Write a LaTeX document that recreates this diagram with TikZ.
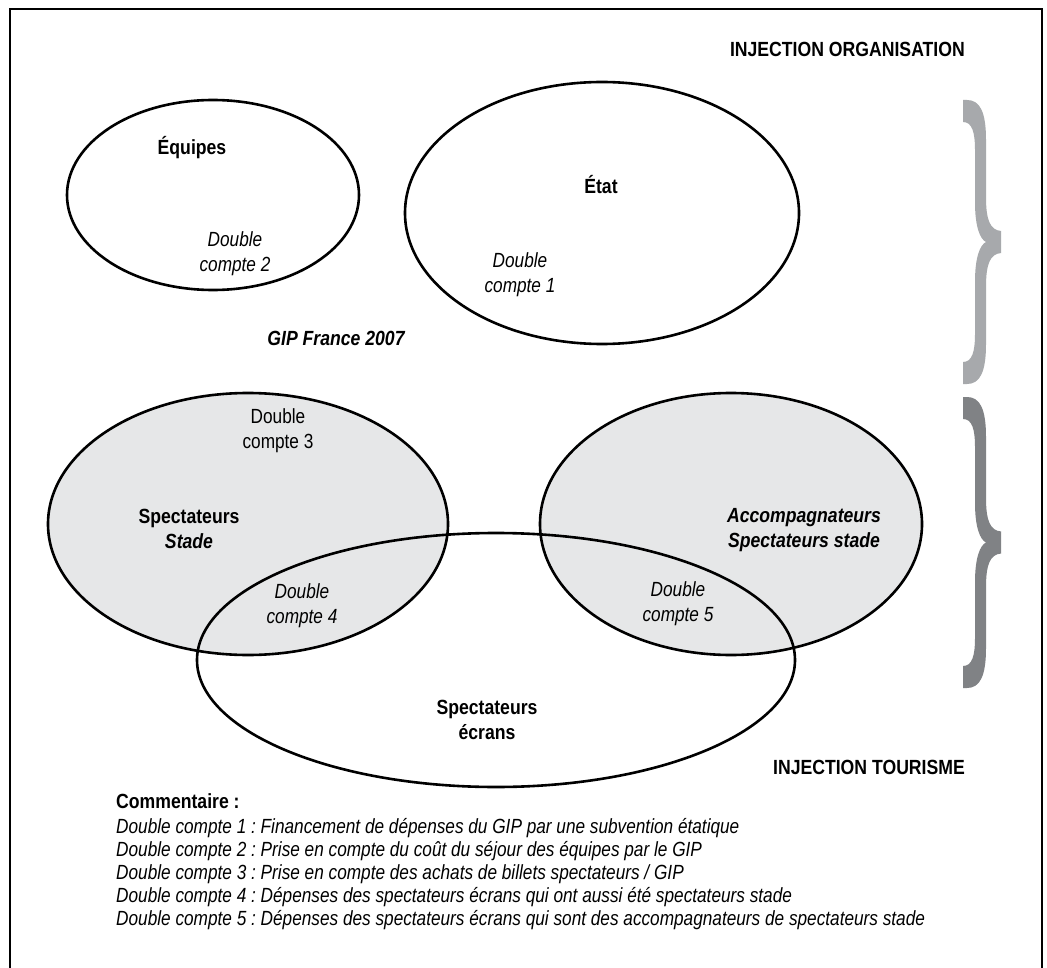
\documentclass[tikz,border=0pt]{standalone}
\usepackage{fontspec}
\setmainfont{Liberation Sans}[FakeStretch=0.84]
\newfontfamily\boldfam{Liberation Sans}[FakeStretch=0.86]
\frenchspacing
\definecolor{setgray}{HTML}{E6E7E8}
\definecolor{bracelight}{HTML}{A7A9AC}
\definecolor{bracedark}{HTML}{808285}
\newcommand{\mybrace}[3]{%
  \pgfmathsetmacro\bym{(#2+#3)/2}%
  \fill[#1] (963,#2) -- (967,#2)
    .. controls (980,#2) and (986,{#2+12}) .. (986,{#2+40})
    -- (986,{\bym-45}) .. controls (986,{\bym-22}) and (990,{\bym-12}) .. (1001,{\bym-11})
    -- (1001,{\bym+11}) .. controls (990,{\bym+12}) and (986,{\bym+22}) .. (986,{\bym+45})
    -- (986,{#3-40}) .. controls (986,{#3-12}) and (980,#3) .. (967,#3)
    -- (963,#3) -- (963,{#3-22}) .. controls (972,{#3-22}) and (975,{#3-32}) .. (975,{#3-50})
    -- (975,{\bym+40}) .. controls (975,{\bym+15}) and (980,{\bym+3}) .. (986,\bym)
    .. controls (980,{\bym-3}) and (975,{\bym-15}) .. (975,{\bym-40})
    -- (975,{#2+50}) .. controls (975,{#2+32}) and (972,{#2+22}) .. (963,{#2+22}) -- cycle;}
\begin{document}
\begin{tikzpicture}[x=1pt,y=-1pt,
  lbl/.style={font=\fontsize{20.5}{25}\selectfont, align=center, inner sep=0pt},
  lblbf/.style={lbl, font=\boldfam\bfseries\fontsize{20.5}{25}\selectfont},
  lblit/.style={lbl, font=\itshape\fontsize{20.5}{25}\selectfont},
  lblbi/.style={lbl, font=\boldfam\bfseries\itshape\fontsize{20.5}{25}\selectfont},
  cline/.style={lblit, anchor=base west},
  setline/.style={draw=black, line width=2.6pt},
  frameline/.style={draw=black, line width=2pt}]
\useasboundingbox (0,0) rectangle (1047,968);
\fill[white] (0,0) rectangle (1047,968);
% frame
\draw[frameline] (10,968) -- (10,9) -- (1042,9) -- (1042,968);
% shaded sets
\fill[setgray] (248,524) ellipse [x radius=200, y radius=131];
\fill[setgray] (731,524) ellipse [x radius=191, y radius=131];
% outlines
\draw[setline] (213,195) ellipse [x radius=146, y radius=95];
\draw[setline] (602,213) ellipse [x radius=197, y radius=131];
\draw[setline] (248,524) ellipse [x radius=200, y radius=131];
\draw[setline] (731,524) ellipse [x radius=191, y radius=131];
\draw[setline] (496,660) ellipse [x radius=299, y radius=127];
% braces
\mybrace{bracelight}{100}{384}
\mybrace{bracedark}{397}{688}
% titles
\node[lblbf, anchor=base east] (injorg) at (965,57) {INJECTION ORGANISATION};
\node[lblbf, anchor=base east] (injtour) at (965,774) {INJECTION TOURISME};
% labels
\node[lblbf] (equipes) at (192,148) {Équipes};
\node[lblit] (dc2) at (235,254) {Double\\compte 2};
\node[lblbf] (etat) at (601,185) {État};
\node[lblit] (dc1) at (520,275) {Double\\compte 1};
\node[lblbi] (gip) at (336,338) {GIP France 2007};
\node[lbl] (dc3) at (278,431) {Double\\compte 3};
\node[lblbf] (stade) at (189,529) {Spectateurs\\\itshape Stade};
\node[lblit] (dc4) at (302,606) {Double\\compte 4};
\node[lblbi] (acc) at (804,530) {Accompagnateurs\\Spectateurs stade};
\node[lblit] (dc5) at (678,604) {Double\\compte 5};
\node[lblbf] (ecrans) at (487,720) {Spectateurs\\écrans};
% commentary
\node[lblbf, anchor=base west] (comm) at (116,808) {Commentaire :};
\node[cline] (c1) at (116,833) {Double compte 1 : Financement de dépenses du GIP par une subvention étatique};
\node[cline] (c2) at (116,856) {Double compte 2 : Prise en compte du coût du séjour des équipes par le GIP};
\node[cline] (c3) at (116,879) {Double compte 3 : Prise en compte des achats de billets spectateurs / GIP};
\node[cline] (c4) at (116,902) {Double compte 4 : Dépenses des spectateurs écrans qui ont aussi été spectateurs stade};
\node[cline] (c5) at (116,925) {Double compte 5 : Dépenses des spectateurs écrans qui sont des accompagnateurs de spectateurs stade};
\end{tikzpicture}
\end{document}
